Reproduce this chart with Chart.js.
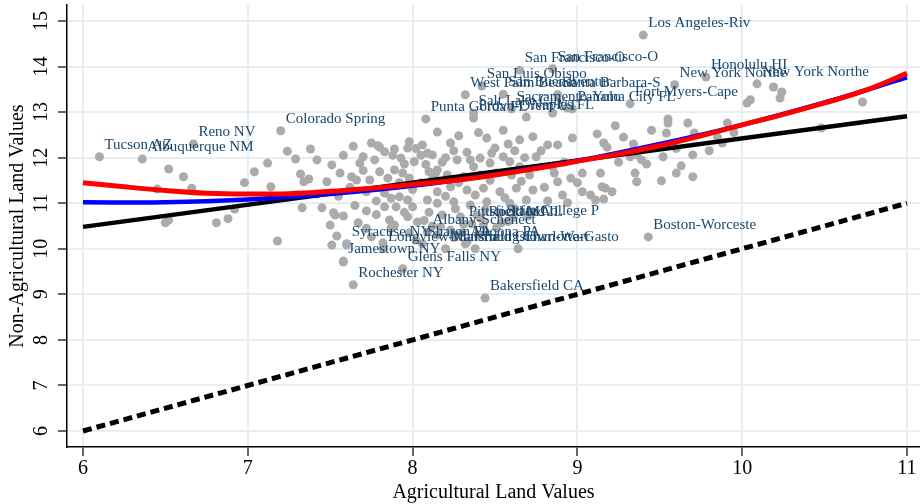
<!DOCTYPE html>
<html>
<head>
<meta charset="utf-8">
<script src="https://cdn.jsdelivr.net/npm/chart.js@4.4.0/dist/chart.umd.min.js"></script>
<style>
  html, body { margin: 0; padding: 0; background: #fff; }
</style>
</head>
<body>
<canvas id="myChart" width="920" height="504"></canvas>
<script>
// labelled metro areas
var cityNames = [
  "Tucson AZ", "Albuquerque NM", "Reno NV", "Colorado Spring", "Los Angeles-Riv",
  "San Francisco-O", "San Francisco-O", "San Luis Obispo", "West Palm Beach", "San Buenaventur",
  "Santa Barbara-S", "Sacramento-Yolo", "Panama City FL", "Punta Gorda FL", "Salt Lake City",
  "Provo-Orem UT", "Naples FL", "Fort Myers-Cape", "New York Northe", "Honolulu HI",
  "New York Northe", "Boston-Worceste", "Charlotte-Gasto", "State College P", "Rockford IL",
  "Pittsfield MA", "Albany-Schenect", "Syracuse NY", "Sharon PA", "Altoona PA",
  "Longview-Marsha", "Mansfield OH", "Youngstown-Warr", "Jamestown NY", "Glens Falls NY",
  "Rochester NY", "Bakersfield CA"
];
var cityX = [
  6.10, 6.36, 6.67, 7.20, 9.40,
  8.65, 8.85, 8.42, 8.32, 8.55,
  8.88, 8.60, 8.97, 8.08, 8.37,
  8.37, 8.69, 9.32, 9.59, 9.78,
  10.09, 9.43, 8.64, 8.54, 8.43,
  8.31, 8.09, 7.60, 8.06, 8.32,
  7.82, 8.20, 8.38, 7.58, 7.94,
  7.64, 8.44
];
var cityY = [
  12.02, 11.97, 12.30, 12.59, 14.69,
  13.92, 13.95, 13.57, 13.38, 13.39,
  13.38, 13.07, 13.07, 12.85, 12.98,
  12.87, 12.89, 13.18, 13.60, 13.77,
  13.62, 10.26, 10.00, 10.57, 10.54,
  10.54, 10.37, 10.11, 10.11, 10.11,
  10.00, 10.00, 10.00, 9.73, 9.56,
  9.21, 8.92
];

// other metro areas (unlabelled)
var otherX = [
  6.52, 6.61, 6.45, 6.66, 6.50, 6.52, 6.81, 6.88, 6.92, 6.98, 7.04, 7.12, 7.14, 7.18,
  7.24, 7.29, 7.38, 7.32, 7.37, 7.34, 7.48, 7.51, 7.56, 7.33, 7.45, 7.53, 7.58, 7.50,
  7.54, 7.51, 7.60, 7.58, 7.72, 7.79, 7.83, 7.70, 7.77, 7.68, 7.63, 7.66, 7.74, 7.80,
  7.89, 7.93, 7.95, 8.01, 7.89, 7.94, 7.83, 7.87, 7.92, 7.97, 7.83, 7.90, 8.00, 7.97,
  7.86, 7.89, 8.06, 8.15, 8.09, 8.12, 8.10, 8.14, 8.09, 7.82, 7.75,
  8.45, 8.23, 8.65, 8.73, 8.82, 8.88, 8.97, 9.12, 8.27, 8.41, 8.55, 8.59, 8.75, 8.37,
  8.47, 8.65, 8.15, 8.21, 8.31, 8.41, 8.51, 8.60, 8.71, 8.86, 9.03, 8.96, 8.88, 8.15,
  8.23, 8.33, 8.43, 8.53, 8.63, 8.73, 8.15, 8.25, 8.35, 8.45, 8.59, 8.69, 8.91, 9.03,
  9.08, 8.18, 8.29, 8.39, 8.53, 8.17, 8.23, 8.30, 8.41, 8.51, 8.33, 8.15, 8.02, 8.03,
  8.61, 8.73, 8.94, 9.11, 9.21, 7.87, 7.67, 7.52,
  8.85, 8.94, 8.28, 7.80, 7.97, 8.50,
  10.03, 10.05, 9.23, 9.55, 9.55, 9.67, 9.54, 9.71, 9.91, 9.16, 9.34, 9.18, 9.36, 9.32,
  9.52, 9.70, 9.39, 9.42, 9.88, 9.85, 9.63, 9.60, 9.70, 9.35, 9.51, 9.36, 9.14, 9.15,
  9.17, 9.16, 10.19, 10.24, 10.23, 10.73, 10.48,
  8.05, 8.00, 8.12, 8.20, 8.28, 8.38, 8.47, 8.56, 8.66, 8.80, 8.85, 8.92, 8.78, 8.62,
  8.33, 8.20, 8.05, 7.98, 8.40, 8.55, 7.72, 7.78, 7.92, 7.62, 7.55, 7.42, 8.10, 8.26,
  8.44, 8.62, 8.82, 9.00, 9.25, 9.28, 9.45, 9.60, 9.80, 9.95,
  7.42, 7.58, 7.64, 7.75, 7.88, 8.02, 7.70, 7.85, 7.98, 8.08, 8.18, 8.25, 8.35, 8.48,
  8.58, 8.68, 7.95, 7.78, 8.07, 8.12, 7.72, 7.65, 8.36, 8.58, 8.70, 8.25, 7.98, 8.40
];
var otherY = [
  11.75, 11.58, 11.31, 11.33, 10.57, 10.63, 10.57, 10.66, 10.87, 11.45, 11.69, 11.88, 11.36, 10.17,
  12.14, 11.97, 12.19, 11.64, 11.53, 11.47, 11.47, 11.84, 11.66, 10.90, 10.90, 10.74, 10.72, 10.52,
  10.28, 10.08, 10.08, 9.71, 10.83, 12.26, 12.13, 12.02, 11.95, 11.88, 11.58, 11.51, 11.51, 11.69,
  12.19, 11.99, 11.86, 11.91, 11.73, 11.66, 11.22, 11.11, 11.14, 11.07, 10.92, 10.92, 10.92, 10.70,
  10.63, 10.52, 12.28, 12.56, 12.10, 12.06, 11.69, 11.66, 11.07, 10.13, 10.26,
  12.43, 12.32, 12.39, 12.46, 12.28, 12.28, 12.43, 12.52, 11.95, 11.99, 12.02, 11.91, 12.02, 11.80,
  11.88, 11.80, 11.73, 11.62, 11.58, 11.62, 11.66, 11.62, 11.62, 11.66, 11.66, 11.55, 11.47, 11.25,
  11.36, 11.29, 11.33, 11.25, 11.33, 11.29, 11.00, 11.03, 10.96, 11.03, 11.00, 11.07, 11.18, 11.25,
  11.18, 10.74, 10.70, 10.74, 10.79, 10.48, 10.41, 10.35, 10.68, 10.46, 10.15, 10.30, 10.19, 10.59,
  10.68, 10.81, 11.01, 11.07, 11.25, 10.46, 10.57, 10.79,
  12.98, 13.09, 12.48, 12.23, 12.21, 12.21,
  13.20, 13.27, 12.70, 12.85, 12.76, 12.76, 12.54, 12.54, 12.76, 12.32, 12.30, 12.23, 12.06, 12.02,
  12.02, 12.06, 11.95, 11.86, 12.32, 12.45, 11.82, 11.66, 11.58, 11.66, 11.49, 11.47, 11.66, 11.36,
  11.33, 11.09, 13.55, 13.44, 13.31, 13.22, 12.65,
  11.45, 11.30, 11.52, 11.15, 11.45, 11.18, 11.50, 11.12, 11.48, 11.35, 11.80, 11.90, 12.15, 12.15,
  12.12, 12.00, 12.05, 12.35, 12.55, 12.60, 11.25, 11.05, 11.45, 11.35, 11.15, 11.20, 10.80, 10.88,
  10.86, 10.88, 11.05, 11.45, 11.90, 12.45, 12.60, 12.20, 12.15, 12.55,
  11.95, 12.05, 12.25, 12.32, 12.05, 12.20, 11.72, 11.55, 11.55, 11.85, 11.90, 12.15, 11.95, 12.10,
  12.30, 12.00, 10.80, 10.75, 10.62, 10.50, 10.45, 10.95, 10.55, 10.60, 10.72, 10.25, 10.35, 10.30
];

// fitted lines
var lineX = [6, 11];
var linearY = [10.48, 12.91];
var diagY = [6, 11];
var quadX = [6, 6.5, 7, 7.5, 8, 8.5, 9, 9.5, 10, 10.5, 11];
var quadY = [11.02, 11.02, 11.08, 11.20, 11.38, 11.63, 11.93, 12.30, 12.72, 13.21, 13.76];
var smoothX = [6, 6.25, 6.5, 6.75, 7, 7.25, 7.5, 7.75, 8, 8.25, 8.5, 8.75, 9, 9.25, 9.5, 9.75, 10, 10.25, 10.5, 10.75, 11];
var smoothY = [11.45, 11.36, 11.28, 11.22, 11.20, 11.21, 11.26, 11.33, 11.41, 11.50, 11.62, 11.76, 11.92, 12.08, 12.26, 12.48, 12.72, 12.95, 13.20, 13.48, 13.85];

var xTicks = [6, 7, 8, 9, 10, 11];
var yTicks = [6, 7, 8, 9, 10, 11, 12, 13, 14, 15];

function pairs(xs, ys) {
  return xs.map(function (x, i) { return { x: x, y: ys[i] }; });
}

var serif = '"Liberation Serif", "Times New Roman", serif';

var cityLabels = {
  id: 'cityLabels',
  afterDatasetsDraw: function (chart) {
    var ctx = chart.ctx, xs = chart.scales.x, ys = chart.scales.y;
    ctx.save();
    ctx.font = '15px ' + serif;
    ctx.fillStyle = '#1a476f';
    ctx.textBaseline = 'middle';
    ctx.textAlign = 'left';
    cityNames.forEach(function (name, i) {
      ctx.fillText(name, xs.getPixelForValue(cityX[i]) + 5, ys.getPixelForValue(cityY[i]) - 12);
    });
    // y tick labels are rotated in the original
    ctx.font = '20px ' + serif;
    ctx.fillStyle = '#000';
    ctx.textAlign = 'center';
    yTicks.forEach(function (v) {
      ctx.save();
      ctx.translate(42, ys.getPixelForValue(v));
      ctx.rotate(-Math.PI / 2);
      ctx.fillText(String(v), 0, 0);
      ctx.restore();
    });
    ctx.restore();
  }
};

var ctx = document.getElementById('myChart').getContext('2d');
new Chart(ctx, {
  type: 'scatter',
  data: {
    datasets: [
      {
        data: pairs(smoothX, smoothY), showLine: true, borderColor: '#ff0000',
        borderWidth: 5, pointRadius: 0, tension: 0.4
      },
      {
        data: pairs(quadX, quadY), showLine: true, borderColor: '#0000ff',
        borderWidth: 4.5, pointRadius: 0, tension: 0.4
      },
      {
        data: pairs(lineX, linearY), showLine: true, borderColor: '#000',
        borderWidth: 4.5, pointRadius: 0
      },
      {
        data: pairs(lineX, diagY), showLine: true, borderColor: '#000',
        borderWidth: 5, borderDash: [9, 5], pointRadius: 0
      },
      {
        data: pairs(cityX, cityY).concat(pairs(otherX, otherY)),
        backgroundColor: '#ababab', borderWidth: 0, pointRadius: 4.5
      }
    ]
  },
  options: {
    responsive: false,
    animation: false,
    layout: { autoPadding: false, padding: { top: 5, right: 0, left: 0, bottom: 0 } },
    plugins: { legend: { display: false }, tooltip: { enabled: false } },
    scales: {
      x: {
        type: 'linear', min: 5.903, max: 11.079,
        afterBuildTicks: function (scale) { scale.ticks = xTicks.map(function (v) { return { value: v }; }); },
        afterFit: function (scale) { scale.height = 57; },
        grid: { color: '#e6eef2', lineWidth: 2, tickColor: '#000', tickLength: 9, tickWidth: 1.2 },
        border: { color: '#000', width: 1.5 },
        ticks: { color: '#000', font: { family: serif, size: 20 }, padding: 1, maxRotation: 0 },
        title: { display: true, text: 'Agricultural Land Values', color: '#000', font: { family: serif, size: 20 }, padding: { top: 0, bottom: -1 } }
      },
      y: {
        type: 'linear', min: 5.649, max: 15.35,
        afterBuildTicks: function (scale) { scale.ticks = yTicks.map(function (v) { return { value: v }; }); },
        afterFit: function (scale) { scale.width = 67; },
        grid: { color: '#e6eef2', lineWidth: 2, tickColor: '#000', tickLength: 9, tickWidth: 1.2 },
        border: { color: '#000', width: 1.5 },
        ticks: { display: false },
        title: { display: true, text: 'Non-Agricultural Land Values', color: '#000', font: { family: serif, size: 20 }, padding: { top: 6, bottom: 0 } }
      }
    }
  },
  plugins: [cityLabels]
});
</script>
</body>
</html>
